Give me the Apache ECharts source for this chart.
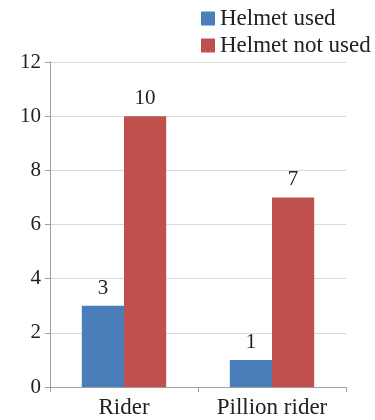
<!DOCTYPE html>
<html>
<head>
<meta charset="utf-8">
<script src="https://cdn.jsdelivr.net/npm/echarts@6/dist/echarts.min.js"></script>
<style>
  html, body { margin: 0; padding: 0; background: #fff; }
  #chart { width: 375px; height: 420px; }
</style>
</head>
<body>
<div id="chart"></div>
<script>
const categories = ['Rider', 'Pillion rider'];
const helmetUsed = [3, 1];
const helmetNotUsed = [10, 7];
const yTicks = { min: 0, max: 12, interval: 2 };

const font = '"Times New Roman", "Liberation Serif", "DejaVu Serif", serif';
const chart = echarts.init(document.getElementById('chart'));

const option = {
  animation: false,
  textStyle: { fontFamily: font },
  legend: {
    orient: 'vertical',
    left: 196,
    top: 2,
    itemWidth: 14,
    itemHeight: 14,
    itemGap: 4,
    icon: 'rect',
    textStyle: { fontFamily: font, fontSize: 23, color: '#222' },
    data: ['Helmet used', 'Helmet not used']
  },
  grid: {
    left: 50,
    right: 29,
    top: 62,
    bottom: 33
  },
  xAxis: {
    type: 'category',
    data: categories,
    axisLine: { lineStyle: { color: '#a0a0a0' } },
    axisTick: { show: true, length: 5, lineStyle: { color: '#a0a0a0' } },
    axisLabel: { fontFamily: font, fontSize: 23, color: '#222', margin: 9 }
  },
  yAxis: {
    type: 'value',
    min: yTicks.min,
    max: yTicks.max,
    interval: yTicks.interval,
    axisLine: { show: true, lineStyle: { color: '#a0a0a0' } },
    axisTick: { show: true, length: 5, lineStyle: { color: '#a0a0a0' } },
    splitLine: { lineStyle: { color: '#d9d9d9' } },
    axisLabel: { fontFamily: font, fontSize: 21, color: '#222', margin: 9 }
  },
  series: [
    {
      name: 'Helmet used',
      type: 'bar',
      data: helmetUsed,
      barGap: '0%',
      barCategoryGap: '43%',
      itemStyle: { color: '#4a7ebb' },
      label: { show: true, position: 'top', distance: 7, fontFamily: font, fontSize: 21, color: '#222' }
    },
    {
      name: 'Helmet not used',
      type: 'bar',
      data: helmetNotUsed,
      itemStyle: { color: '#c0504d' },
      label: { show: true, position: 'top', distance: 7, fontFamily: font, fontSize: 21, color: '#222' }
    }
  ]
};
chart.setOption(option);
</script>
</body>
</html>
